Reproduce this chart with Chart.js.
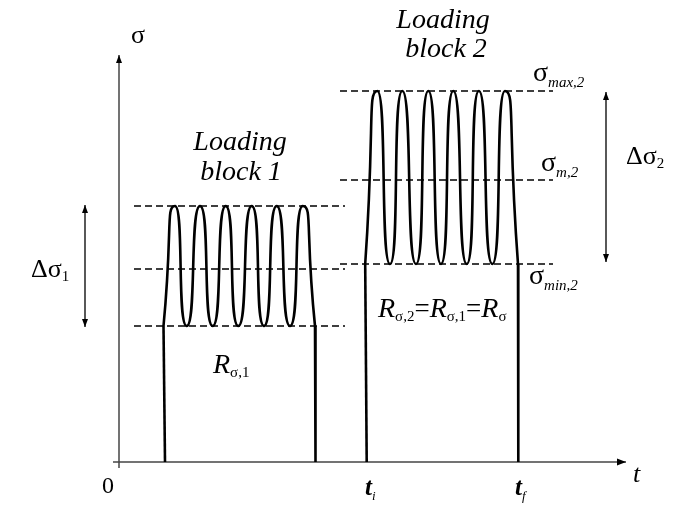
<!DOCTYPE html>
<html>
<head>
<meta charset="UTF-8">
<title>Loading blocks</title>
<script src="https://cdn.jsdelivr.net/npm/chart.js"></script>
<style>
  body { margin: 0; background: #ffffff; }
  canvas { display: block; }
</style>
</head>
<body>
<canvas id="blocks" width="687" height="509"></canvas>
<script>
// time (t) and stress (sigma), arbitrary units, origin at the axes corner
// each block: rise from 0 to trough level, peak/trough turns, then back down to 0
const blockOneTimes  = [4.6, 4.45, 5.6, 6.77, 8.1, 9.37, 10.67, 11.93, 13.27, 14.5, 15.77, 17.1, 18.37, 19.6, 19.65];
const blockOneStress = [0, 13.6, 25.6, 13.6, 25.6, 13.6, 25.6, 13.6, 25.6, 13.6, 25.6, 13.6, 25.6, 13.6, 0];
const blockTwoTimes  = [24.77, 24.62, 25.83, 27.1, 28.33, 29.7, 30.93, 32.2, 33.43, 34.77, 35.99, 37.33, 38.6, 39.9, 39.93];
const blockTwoStress = [0, 19.8, 37.1, 19.8, 37.1, 19.8, 37.1, 19.8, 37.1, 19.8, 37.1, 19.8, 37.1, 19.8, 0];

// max, mean, min levels of each block and the t-span of their dashed guides
const levelsOne = [25.6, 19.3, 13.6];
const levelsTwo = [37.1, 28.2, 19.8];
const guideSpanOne = [1.5, 22.6];
const guideSpanTwo = [22.1, 43.4];

const tAxisSpan = [-0.6, 50.7];
const sigmaAxisSpan = [-0.6, 40.7];
const rangeOneArrow = [-3.4, 25.7, 13.5];   // t, top, bottom
const rangeTwoArrow = [48.7, 37.0, 20.0];

function pts(xs, ys) { return xs.map((x, i) => ({ x: x, y: ys[i] })); }

const datasets = [];
// straight edges up and down, smooth wave in between
[[blockOneTimes, blockOneStress], [blockTwoTimes, blockTwoStress]].forEach(([ts, ss]) => {
  const p = pts(ts, ss), n = p.length;
  datasets.push({ data: p.slice(0, 2), borderColor: '#000', borderWidth: 2.6 });
  datasets.push({ data: p.slice(1, n - 1), borderColor: '#000', borderWidth: 2.6, tension: 0.8 });
  datasets.push({ data: p.slice(n - 2), borderColor: '#000', borderWidth: 2.6 });
});
levelsOne.forEach(l => datasets.push({ data: pts(guideSpanOne, [l, l]), borderColor: '#000', borderWidth: 1.4, borderDash: [7, 4] }));
levelsTwo.forEach(l => datasets.push({ data: pts(guideSpanTwo, [l, l]), borderColor: '#000', borderWidth: 1.4, borderDash: [7, 4] }));
datasets.push({ data: pts(tAxisSpan, [0, 0]), borderColor: '#444', borderWidth: 1.5 });
datasets.push({ data: pts([0, 0], sigmaAxisSpan), borderColor: '#444', borderWidth: 1.5 });
datasets.push({ data: pts([rangeOneArrow[0], rangeOneArrow[0]], [rangeOneArrow[1], rangeOneArrow[2]]), borderColor: '#000', borderWidth: 1.3 });
datasets.push({ data: pts([rangeTwoArrow[0], rangeTwoArrow[0]], [rangeTwoArrow[1], rangeTwoArrow[2]]), borderColor: '#000', borderWidth: 1.3 });

function arrowHead(ctx, x, y, dir) {
  // dir: 'up', 'down', 'right'
  ctx.beginPath();
  if (dir === 'up') { ctx.moveTo(x, y); ctx.lineTo(x - 3, y + 8); ctx.lineTo(x + 3, y + 8); }
  if (dir === 'down') { ctx.moveTo(x, y); ctx.lineTo(x - 3, y - 8); ctx.lineTo(x + 3, y - 8); }
  if (dir === 'right') { ctx.moveTo(x, y); ctx.lineTo(x - 9, y - 3.5); ctx.lineTo(x - 9, y + 3.5); }
  ctx.closePath();
  ctx.fill();
}

// sequence of [text, font, baseline shift]
function richText(ctx, parts, x, y, align) {
  let w = 0;
  parts.forEach(p => { ctx.font = p[1]; w += ctx.measureText(p[0]).width; });
  let cx = align === 'center' ? x - w / 2 : x;
  ctx.textAlign = 'left';
  ctx.textBaseline = 'alphabetic';
  parts.forEach(p => {
    ctx.font = p[1];
    ctx.fillText(p[0], cx, y + (p[2] || 0));
    cx += ctx.measureText(p[0]).width;
  });
}

const SERIF = '"Liberation Serif", "Times New Roman", serif';
const sig = '28px ' + SERIF;
const sub = 'italic 15px ' + SERIF;
const subUp = '15px ' + SERIF;

const decorations = {
  id: 'decorations',
  afterDatasetsDraw(chart) {
    const ctx = chart.ctx;
    const X = v => chart.scales.x.getPixelForValue(v);
    const Y = v => chart.scales.y.getPixelForValue(v);
    ctx.save();
    ctx.fillStyle = '#000';
    arrowHead(ctx, X(tAxisSpan[1]), Y(0), 'right');
    arrowHead(ctx, X(0), Y(sigmaAxisSpan[1]), 'up');
    arrowHead(ctx, X(rangeOneArrow[0]), Y(rangeOneArrow[1]), 'up');
    arrowHead(ctx, X(rangeOneArrow[0]), Y(rangeOneArrow[2]), 'down');
    arrowHead(ctx, X(rangeTwoArrow[0]), Y(rangeTwoArrow[1]), 'up');
    arrowHead(ctx, X(rangeTwoArrow[0]), Y(rangeTwoArrow[2]), 'down');

    richText(ctx, [['\u03c3', '26px ' + SERIF]], X(1.2), Y(41.9));
    richText(ctx, [['0', '24px ' + SERIF]], X(-1.1), Y(-3.1), 'center');
    richText(ctx, [['t', 'italic 26px ' + SERIF]], X(51.4), Y(-2.0));
    richText(ctx, [['t', 'bold italic 25px ' + SERIF], ['i', 'italic 13px ' + SERIF, 5]], X(24.6), Y(-3.3));
    richText(ctx, [['t', 'bold italic 25px ' + SERIF], ['f', 'italic 13px ' + SERIF, 5]], X(39.6), Y(-3.3));

    const L = 'italic 28px ' + SERIF;
    richText(ctx, [['Loading', L]], X(12.1), Y(31.2), 'center');
    richText(ctx, [['block 1', L]], X(12.2), Y(28.2), 'center');
    richText(ctx, [['Loading', L]], X(32.4), Y(43.4), 'center');
    richText(ctx, [['block 2', L]], X(32.7), Y(40.5), 'center');

    richText(ctx, [['\u0394\u03c3', '26px ' + SERIF], ['1', subUp, 4]], X(-8.8), Y(18.5));
    richText(ctx, [['\u0394\u03c3', '26px ' + SERIF], ['2', subUp, 4]], X(50.7), Y(29.8));
    richText(ctx, [['\u03c3', sig], ['max,2', sub, 6]], X(41.4), Y(38.1));
    richText(ctx, [['\u03c3', sig], ['m,2', sub, 6]], X(42.2), Y(29.1));
    richText(ctx, [['\u03c3', sig], ['min,2', sub, 6]], X(41.0), Y(17.8));

    const R = 'italic 28px ' + SERIF;
    const eq = '27px ' + SERIF;
    richText(ctx, [['R', R], ['\u03c3,1', subUp, 4]], X(9.4), Y(8.9));
    richText(ctx, [['R', R], ['\u03c3,2', subUp, 4], ['=', eq], ['R', R], ['\u03c3,1', subUp, 4],
                   ['=', eq], ['R', R], ['\u03c3', subUp, 4]], X(25.9), Y(14.5));
    ctx.restore();
  }
};

new Chart(document.getElementById('blocks'), {
  type: 'scatter',
  data: { datasets: datasets.map(d => Object.assign({ showLine: true, pointRadius: 0, fill: false, clip: false }, d)) },
  options: {
    responsive: false,
    animation: false,
    devicePixelRatio: 1,
    layout: { padding: 0 },
    plugins: { legend: { display: false }, tooltip: { enabled: false } },
    scales: {
      x: { type: 'linear', display: false, min: -11.9, max: 56.8 },
      y: { type: 'linear', display: false, min: -4.7, max: 46.2 }
    }
  },
  plugins: [decorations]
});
</script>
</body>
</html>
